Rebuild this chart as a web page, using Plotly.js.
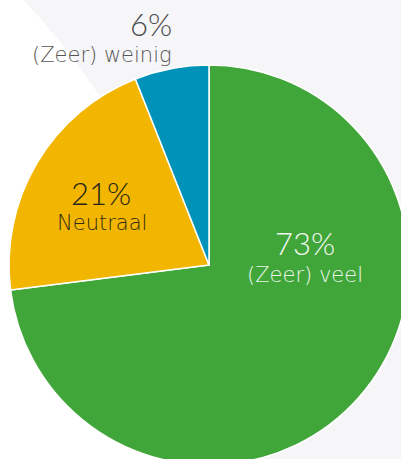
<!DOCTYPE html>
<html><head><meta charset="utf-8">
<script src="https://cdn.plot.ly/plotly-3.0.1.min.js"></script>
<style>html,body{margin:0;padding:0;overflow:hidden;background:#f6f6f8;}</style>
</head><body><div id="chart"></div>
<script>
// Data
const labels = ['(Zeer) veel', 'Neutraal', '(Zeer) weinig'];
const values = [73, 21, 6];
const colors = ['#41a63a', '#f2b600', '#0092b9'];

// Layout helpers (pixel -> paper)
const W = 420, H = 470;
const px = x => x / W;
const py = y => (H - y) / H;

const FONT_NUM = "Lato, 'Open Sans', sans-serif";
const FONT_LBL = "'DejaVu Sans', 'Open Sans', sans-serif";

const trace = {
  type: 'pie',
  labels: labels,
  values: values,
  sort: false,
  direction: 'clockwise',
  rotation: 0,
  textinfo: 'none',
  hoverinfo: 'label+percent',
  marker: { colors: colors, line: { color: '#ffffff', width: 1.5 } },
  domain: { x: [px(9), px(409)], y: [py(465), py(65)] },
  showlegend: false
};

// label placements [pctX, pctY, labelX, labelY, anchor, pctColor, labelColor]
const place = [
  [305, 243, 305, 275, 'center', '#f2f8f1', '#eef6ed'],
  [101, 193, 102, 223, 'center', '#262418', '#332c14'],
  [174, 24, 174, 55, 'right', '#4a4a4a', '#555555']
];

const annotations = [];
values.forEach((v, i) => {
  const p = place[i];
  annotations.push({
    xref: 'paper', yref: 'paper', x: px(p[0]), y: py(p[1]),
    xanchor: p[4], yanchor: 'middle', showarrow: false,
    text: v + '%',
    font: { family: FONT_NUM, size: 31, color: p[5], weight: 300 }
  });
  annotations.push({
    xref: 'paper', yref: 'paper', x: px(p[2]), y: py(p[3]),
    xanchor: p[4], yanchor: 'middle', showarrow: false,
    text: labels[i],
    font: { family: FONT_LBL, size: 21, color: p[6], weight: 200 }
  });
});

const layout = {
  width: W, height: H,
  margin: { l: 0, r: 0, t: 0, b: 0, pad: 0 },
  paper_bgcolor: '#f6f6f8',
  plot_bgcolor: '#f6f6f8',
  showlegend: false,
  shapes: [{
    type: 'circle', xref: 'paper', yref: 'paper', layer: 'below',
    x0: px(-465 - 675), x1: px(-465 + 675),
    y0: py(466 + 675), y1: py(466 - 675),
    fillcolor: '#ffffff', line: { width: 0 }
  }],
  annotations: annotations
};

Plotly.newPlot('chart', [trace], layout, { displayModeBar: false, staticPlot: true });
</script>
</body></html>
